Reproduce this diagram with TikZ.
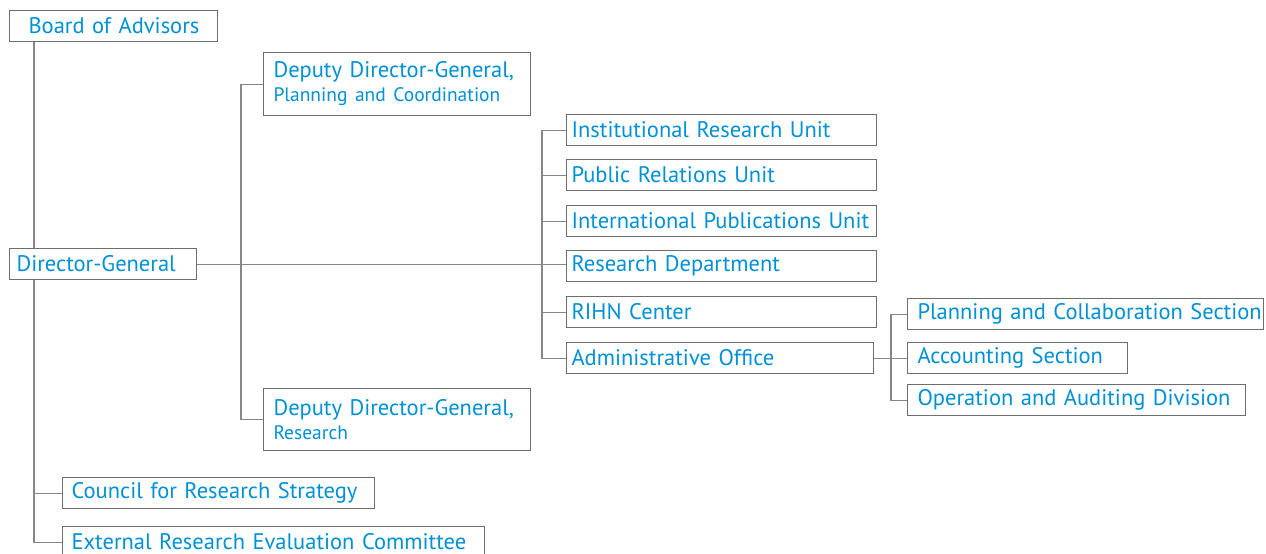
\documentclass[tikz,border=0pt]{standalone}
\usepackage{fontspec}
\setmainfont{PT Sans}[WordSpace=0.8]
\usetikzlibrary{positioning,calc}
\definecolor{orgblue}{RGB}{0,144,214}
\definecolor{boxgray}{RGB}{110,110,110}
\definecolor{linegray}{RGB}{135,135,135}
\newcommand{\mainsize}{\fontsize{22.5}{26}\selectfont}
\newcommand{\subsize}{\fontsize{19.5}{22}\selectfont}

\begin{document}
\begin{tikzpicture}[x=1pt,y=-1pt,
  unit/.style={draw=boxgray,line width=1.1pt,anchor=north west,align=left,
    text=orgblue,font=\mainsize,minimum height=31pt,inner ysep=0pt},
  link/.style={draw=linegray,line width=1.1pt}]
\useasboundingbox (0,0) rectangle (1266,554);
% top and left column
\node[unit,inner xsep=19pt,text width=170pt] (board) at (9,10) {\mbox{Board of Advisors}};
\node[unit,inner xsep=7pt,text width=173pt] (dg) at (9,248) {\mbox{Director-General}};
\node[unit,inner xsep=9pt,text width=294pt] (crs) at (62,477) {\mbox{Council for Research Strategy}};
\node[unit,inner xsep=9pt,text width=404pt] (erc) at (62,526) {\mbox{External Research Evaluation Committee}};
% deputies
\node[unit,inner xsep=10pt,text width=247pt,minimum height=63pt] (dpc) at (263,52)
  {\mbox{Deputy Director-General,}\\[-2pt]{\subsize\mbox{Planning and Coordination}}};
\node[unit,inner xsep=10pt,text width=247pt,minimum height=62pt] (dr) at (263,388)
  {\mbox{Deputy Director-General,}\\[-2pt]{\subsize Research}};
% units
\node[unit,inner xsep=5pt,text width=300pt] (iru) at (566,114) {\mbox{Institutional Research Unit}};
\node[unit,inner xsep=5pt,text width=300pt] (pru) at (566,159) {\mbox{Public Relations Unit}};
\node[unit,inner xsep=5pt,text width=300pt] (ipu) at (566,205) {\mbox{International Publications Unit}};
\node[unit,inner xsep=5pt,text width=300pt] (rd) at (566,250) {\mbox{Research Department}};
\node[unit,inner xsep=5pt,text width=300pt] (rc) at (566,296) {\mbox{RIHN Center}};
\node[unit,inner xsep=5pt,text width=297pt] (ao) at (566,342) {\mbox{Administrative Office}};
% sections
\node[unit,inner xsep=10pt,text width=336pt] (pcs) at (907,298) {\mbox{Planning and Collaboration Section}};
\node[unit,inner xsep=10pt,text width=200pt] (acs) at (907,342) {\mbox{Accounting Section}};
\node[unit,inner xsep=10pt,text width=318pt] (oad) at (907,384) {\mbox{Operation and Auditing Division}};
% connectors
\coordinate (spine) at (34,0);
\coordinate (dep) at (241,0);
\coordinate (mid) at (542,0);
\coordinate (sec) at (891,0);
\draw[link] (spine |- board.south) -- (spine |- dg.north);
\draw[link] (spine |- dg.south) |- (erc.west);
\draw[link] (spine |- crs.west) -- (crs.west);
\draw[link] (dg.east) -- (dg.east -| rd.west);
\draw[link] (dep |- dpc.west) -- (dpc.west);
\draw[link] (dep |- dpc.west) |- (dr.west);
\draw[link] (iru.west) -| (mid |- ao.west) -- (ao.west);
\foreach \u in {pru,ipu,rc}
  \draw[link] (mid |- \u.west) -- (\u.west);
\draw[link] (ao.east) -- (acs.west);
\draw[link] (pcs.west) -| (sec |- oad.west) -- (oad.west);
\end{tikzpicture}
\end{document}
